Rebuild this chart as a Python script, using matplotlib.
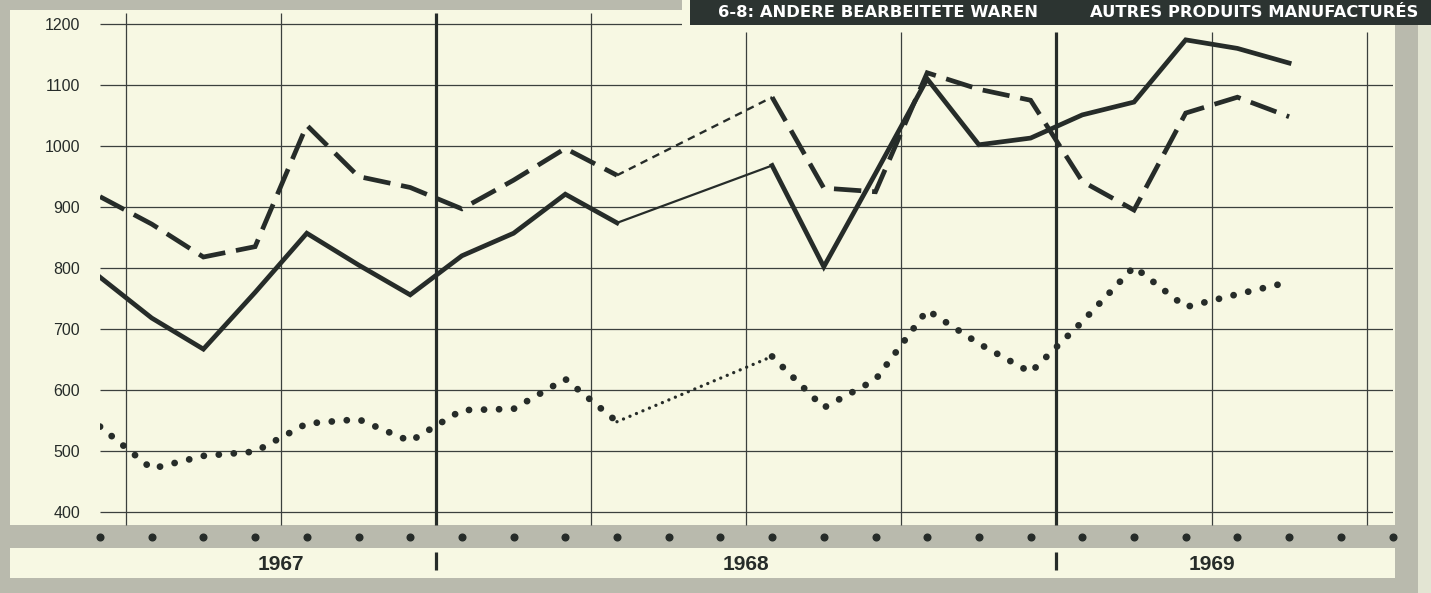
import numpy as np
import matplotlib
matplotlib.use("Agg")
import matplotlib.pyplot as plt
from matplotlib.patches import Rectangle
import matplotlib.transforms as mtransforms

# ---------------- data ----------------
# monthly values, June 1967 .. May 1969 ; NaN = no data (May/June 1968)
months = ["1967-06", "1967-07", "1967-08", "1967-09", "1967-10", "1967-11", "1967-12",
          "1968-01", "1968-02", "1968-03", "1968-04", "1968-05", "1968-06", "1968-07",
          "1968-08", "1968-09", "1968-10", "1968-11", "1968-12",
          "1969-01", "1969-02", "1969-03", "1969-04", "1969-05"]
nan = np.nan
series_solid = [785, 718, 667, 760, 857, 805, 756, 820, 857, 921, 874, nan, nan, 968,
                802, 955, 1110, 1002, 1013, 1051, 1072, 1174, 1160, 1136]
series_dashed = [917, 872, 818, 835, 1034, 950, 932, 897, 944, 996, 952, nan, nan, 1080,
                 931, 925, 1120, 1093, 1075, 942, 895, 1054, 1080, 1048]
series_dotted = [540, 471, 492, 499, 545, 552, 516, 567, 569, 618, 548, nan, nan, 655,
                 571, 617, 731, 676, 629, 712, 802, 736, 757, 777]
y_ticks = [400, 500, 600, 700, 800, 900, 1000, 1100, 1200]
year_labels = ["1967", "1968", "1969"]
title_de = "6-8: ANDERE BEARBEITETE WAREN"
title_fr = "AUTRES PRODUITS MANUFACTURÉS"

# ---------------- layout / style ----------------
W, H, DPI = 1431, 593, 100
CREAM = "#f7f8e3"
GRAY = "#b9baad"
INK = "#262c29"
GRID = "#3b403d"

def fx(x):
    return x / W

def fy(y):
    return 1 - y / H

fig = plt.figure(figsize=(W / DPI, H / DPI), dpi=DPI)
fig.patch.set_facecolor(GRAY)

def fig_rect(x0, y0, x1, y1, color, z):
    fig.add_artist(Rectangle((fx(x0), fy(y1)), (x1 - x0) / W, (y1 - y0) / H,
                             transform=fig.transFigure, facecolor=color,
                             edgecolor="none", zorder=z))

# page areas
fig_rect(10, 10, 1395, 525, CREAM, -2)      # chart area
fig_rect(10, 548, 1395, 578, CREAM, -2)     # year band
fig_rect(1418, 0, 1431, 593, "#e3e5d3", -2) # light right edge

# main axes: x = month index, y = value
ax_l, ax_r, ax_t, ax_b = 100, 1392.5, 13, 525
ax = fig.add_axes([fx(ax_l), fy(ax_b), (ax_r - ax_l) / W, (ax_b - ax_t) / H])
ax.set_facecolor("none")
for s in ax.spines.values():
    s.set_visible(False)

px_per_val = (512 - 24) / 800.0
ymin = 400 - (ax_b - 512) / px_per_val
ymax = 1200 + (24 - ax_t) / px_per_val
n_span = 25
ax.set_xlim(0, n_span)
ax.set_ylim(ymin, ymax)
ax.set_xticks([])
ax.set_yticks(y_ticks)
ax.set_yticklabels([str(v) for v in y_ticks], fontsize=11.5,
                   family=["Liberation Sans", "DejaVu Sans"], color=INK)
ax.tick_params(axis="y", length=0, pad=14.4)

# box of the title cuts some grid lines
box_left_val = (682 - ax_l) / (ax_r - ax_l) * n_span
box_bottom_val = 1200 + (24 - 32) / px_per_val

# horizontal grid
for v in y_ticks:
    x_end = box_left_val if v == 1200 else n_span
    ax.plot([0, x_end], [v, v], color=GRID, lw=0.9, zorder=1, solid_capstyle="butt")

# vertical grid: quarter boundaries, thick at year boundaries
idx = {m: i for i, m in enumerate(months)}
quarter_x = [i - 0.5 for i, m in enumerate(months + ["1969-06", "1969-07"])
             if m[5:] in ("01", "04", "07", "10")]
for xv in quarter_x:
    thick = abs(xv - (idx["1968-01"] - 0.5)) < 1e-9 or abs(xv - (idx["1969-01"] - 0.5)) < 1e-9
    top = ymax if xv < box_left_val else box_bottom_val
    ax.plot([xv, xv], [ymin, top], color=INK if thick else GRID,
            lw=2.3 if thick else 0.9, zorder=1, solid_capstyle="butt", clip_on=False)

x = np.arange(len(months))

def draw_series(vals, main_kw, gap_kw):
    vals = np.asarray(vals, dtype=float)
    ax.plot(x, vals, **main_kw)
    # thin connection across missing months
    good = ~np.isnan(vals)
    i = 0
    while i < len(vals):
        if not good[i]:
            j = i
            while j < len(vals) and not good[j]:
                j += 1
            if i > 0 and j < len(vals):
                ax.plot([x[i - 1], x[j]], [vals[i - 1], vals[j]], **gap_kw)
            i = j
        else:
            i += 1

draw_series(series_solid,
            dict(color=INK, lw=3.4, solid_joinstyle="miter", zorder=3),
            dict(color=INK, lw=1.6, zorder=3))
draw_series(series_dashed,
            dict(color=INK, lw=3.4, linestyle=(0, (5.8, 2.3)), dash_capstyle="butt",
                 dash_joinstyle="miter", zorder=3),
            dict(color=INK, lw=1.7, linestyle=(0, (3.2, 2.4)), dash_capstyle="butt", zorder=3))
draw_series(series_dotted,
            dict(color=INK, lw=4.9, linestyle=(0, (0.01, 2.2)), dash_capstyle="round", zorder=3),
            dict(color=INK, lw=2.4, linestyle=(0, (0.01, 2.1)), dash_capstyle="round", zorder=3))

# bottom month-dot band and year band
trans_band = mtransforms.blended_transform_factory(ax.transData, fig.transFigure)
band_x = np.arange(n_span + 1)
ax.plot(band_x, [fy(537)] * len(band_x), linestyle="none", marker="o", ms=4.8,
        color=INK, transform=trans_band, clip_on=False, zorder=4)

year_x = [quarter_x[1], quarter_x[4], quarter_x[7]]
for xv, lab in zip(year_x, year_labels):
    ax.text(xv, fy(564), lab, transform=trans_band, ha="center", va="center",
            fontsize=15, fontweight="bold", family=["Liberation Sans", "DejaVu Sans"],
            color=INK, clip_on=False)
for m in ("1968-01", "1969-01"):
    xv = idx[m] - 0.5
    ax.plot([xv, xv], [fy(552), fy(570)], color=INK, lw=2.3, transform=trans_band,
            clip_on=False, solid_capstyle="butt")

# title box
fig_rect(682, 0, 1395, 32, CREAM, 5)
fig_rect(690, 0, 1431, 25, "#2c3431", 6)
fig.text(fx(718), fy(12.5), title_de, color="white", fontsize=11.8, fontweight="bold",
         family=["DejaVu Sans"], ha="left", va="center", zorder=7)
fig.text(fx(1418), fy(12.5), title_fr, color="white", fontsize=11.8, fontweight="bold",
         family=["DejaVu Sans"], ha="right", va="center", zorder=7)

fig.savefig("out.png", dpi=DPI, facecolor=fig.get_facecolor())
